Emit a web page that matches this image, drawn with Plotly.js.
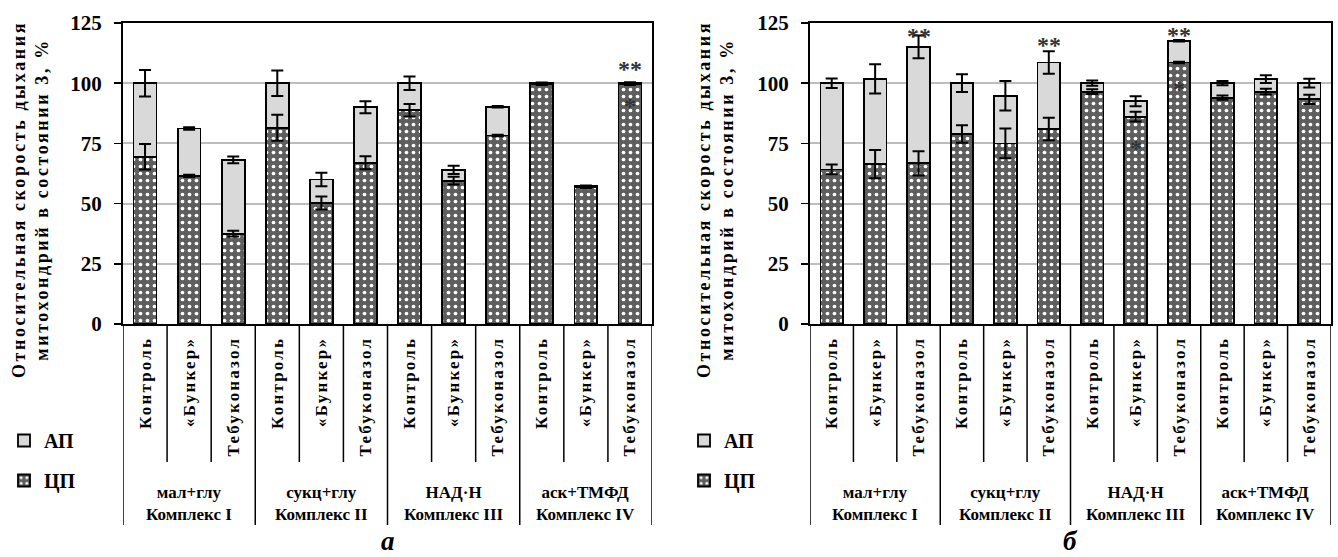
<!DOCTYPE html>
<html><head><meta charset="utf-8">
<script src="https://cdn.plot.ly/plotly-3.0.1.min.js"></script>
<style>
html,body{margin:0;padding:0;background:#fff;}
#chart{width:1338px;height:557px;}
.xtick text, .x2tick text {letter-spacing:2.2px;}
.annotation[data-index="0"] text, .annotation[data-index="1"] text {letter-spacing:2.6px;}
</style>
</head><body><div id="chart"></div>
<script>
// ---- categories ----
const treatments = ['Контроль', '«Бункер»', 'Тебуконазол'];
const groups = ['мал+глу<br>Комплекс I', 'сукц+глу<br>Комплекс II', 'НАД·Н<br>Комплекс III', 'аск+ТМФД<br>Комплекс IV'];
const tickLabels = groups.flatMap(() => treatments);
const seriesNames = ['ЦП', 'АП'];
const yTitle = 'Относительная скорость дыхания<br>митохондрий в состоянии 3, %';
const panelLabels = ['а', 'б'];

// ---- panel а ----
const cpA    = [69.5, 61.5, 37.5, 81.5, 50.2, 67.0, 88.8, 59.5, 78.3, 99.6, 56.8, 99.6];
const apA    = [30.5, 19.7, 30.7, 18.5,  9.8, 23.0, 11.2,  4.5, 11.9,  0.4,  0.4,  0.4];
const cpErrA = [5.3, 0.5, 1.2, 5.4, 2.7, 2.7, 2.6, 1.6, 0.3, 0.3, 0.3, 0.3];
const apErrA = [5.5, 0.5, 1.4, 5.3, 2.8, 2.5, 2.8, 1.7, 0.3, 0.3, 0.3, 0.4];
const starsA_x = [11, 11];
const starsA_y = [108, 92.5];
const starsA_t = ['**', '*'];

// ---- panel б ----
const cpB    = [64.2, 66.4, 66.7, 78.9, 75.0, 81.0, 96.5, 86.1, 108.6, 94.0, 96.5, 93.3];
const apB    = [35.8, 35.4, 48.4, 21.1, 19.8, 27.6,  3.5,  6.4,   9.0,  6.0,  5.2,  6.7];
const cpErrB = [2.0, 5.9, 5.0, 3.6, 6.2, 4.7, 1.0, 2.0, 0.3, 0.9, 1.2, 1.9];
const apErrB = [2.0, 6.1, 4.7, 3.7, 6.1, 4.7, 1.1, 2.1, 0.3, 0.9, 1.6, 1.8];
const starsB_x = [2, 5, 8, 8, 7];
const starsB_y = [121.5, 118, 122, 99.5, 75];
const starsB_t = ['**', '**', '**', '*', '*'];

const FONT = "'Liberation Serif', 'Times New Roman', serif";
const bold = s => '<b>' + s + '</b>';
const idx = tickLabels.map((_, i) => i);
const cpPattern = {shape: '.', size: 7, solidity: 0.22, fgcolor: '#ffffff', bgcolor: '#5e5e5e', fillmode: 'replace'};

function panelTraces(cp, ap, cpErr, apErr, xa, ya, leg) {
  const tot = cp.map((v, i) => v + ap[i]);
  return [
    {type: 'bar', name: bold(seriesNames[0]), x: idx, y: cp, xaxis: xa, yaxis: ya, legend: leg, legendgroup: 'cp' + leg, legendrank: 2,
     marker: {color: '#5e5e5e', pattern: cpPattern, line: {color: '#000', width: 1.8}}, hoverinfo: 'y'},
    {type: 'bar', name: bold(seriesNames[1]), x: idx, y: ap, xaxis: xa, yaxis: ya, legend: leg, legendgroup: 'ap' + leg, legendrank: 1,
     marker: {color: '#d9d9d9', line: {color: '#000', width: 1.8}}, hoverinfo: 'y'},
    {type: 'scatter', mode: 'markers', x: idx, y: cp, xaxis: xa, yaxis: ya, showlegend: false,
     marker: {opacity: 0, size: 1}, error_y: {type: 'data', array: cpErr, visible: true, color: '#000', thickness: 2, width: 6}},
    {type: 'scatter', mode: 'markers', x: idx, y: tot, xaxis: xa, yaxis: ya, showlegend: false,
     marker: {opacity: 0, size: 1}, error_y: {type: 'data', array: apErr, visible: true, color: '#000', thickness: 2, width: 6}}
  ];
}

const data = [
  ...panelTraces(cpA, apA, cpErrA, apErrA, 'x', 'y', 'legend'),
  ...panelTraces(cpB, apB, cpErrB, apErrB, 'x2', 'y2', 'legend2')
];

const W = 1338, H = 557, T = 23, B = 233;
const plotH = H - T - B;
const py = p => (H - B - p) / plotH;   // pixel row -> paper y

function xAxis(domain, anchor) {
  return {domain: domain, anchor: anchor, range: [-0.5, tickLabels.length - 0.5], tickvals: idx, ticktext: tickLabels.map(bold),
    tickangle: -90, tickfont: {family: FONT, size: 17, color: '#000'},
    showline: true, linecolor: '#000', linewidth: 2, mirror: true, ticks: '', showgrid: false, zeroline: false,
    ticklabelstandoff: 4, fixedrange: true};
}
function yAxis(anchor) {
  return {domain: [0, 1], anchor: anchor, range: [0, 125], tick0: 0, dtick: 25,
    ticks: 'outside', ticklen: 7, tickwidth: 1.5, tickcolor: '#000',
    tickfont: {family: FONT, size: 21, color: '#000', weight: 700},
    showline: true, linecolor: '#000', linewidth: 2, mirror: true,
    showgrid: true, gridcolor: '#bdbdbd', gridwidth: 2, zeroline: false, ticklabelstandoff: 8, fixedrange: true};
}

const shapes = [];
function separators(xref) {
  for (let k = 0; k <= tickLabels.length; k++) {
    const groupEdge = k % treatments.length === 0;
    shapes.push({type: 'line', xref: xref, yref: 'paper', x0: k - 0.5, x1: k - 0.5, y0: 0,
      y1: groupEdge ? py(525) : py(462), line: {color: '#000', width: 1.5}});
  }
}
separators('x'); separators('x2');

const annotations = [
  {xref: 'paper', yref: 'paper', x: 30 / W, y: py(200), text: bold(yTitle), textangle: -90, showarrow: false,
   xanchor: 'center', yanchor: 'middle', font: {family: FONT, size: 18, color: '#000'}},
  {xref: 'paper', yref: 'paper', x: 715 / W, y: py(200), text: bold(yTitle), textangle: -90, showarrow: false,
   xanchor: 'center', yanchor: 'middle', font: {family: FONT, size: 18, color: '#000'}},
  {xref: 'x', yref: 'paper', x: (tickLabels.length - 1) / 2, y: py(541), text: '<b><i>' + panelLabels[0] + '</i></b>', showarrow: false,
   yanchor: 'middle', font: {family: FONT, size: 27, color: '#000'}},
  {xref: 'x2', yref: 'paper', x: (tickLabels.length - 1) / 2, y: py(541), text: '<b><i>' + panelLabels[1] + '</i></b>', showarrow: false,
   yanchor: 'middle', font: {family: FONT, size: 27, color: '#000'}}
];
groups.forEach((g, gi) => {
  const cx = gi * treatments.length + (treatments.length - 1) / 2;
  ['x', 'x2'].forEach(xr => annotations.push({xref: xr, yref: 'paper', x: cx, y: py(503), text: bold(g), showarrow: false,
    yanchor: 'middle', font: {family: FONT, size: 17, color: '#000'}}));
});
function stars(xs, ys, ts, xr, yr) {
  xs.forEach((x, i) => annotations.push({xref: xr, yref: yr, x: x, y: ys[i], text: bold(ts[i]), showarrow: false,
    yanchor: 'middle', yshift: -5, font: {family: FONT, size: 24, color: '#333'}}));
}
stars(starsA_x, starsA_y, starsA_t, 'x', 'y');
stars(starsB_x, starsB_y, starsB_t, 'x2', 'y2');

const legendBase = {yanchor: 'top', xanchor: 'left', y: py(421), traceorder: 'grouped', tracegroupgap: 11,
  font: {family: FONT, size: 20, color: '#000'}, bgcolor: 'rgba(0,0,0,0)', itemclick: false, itemdoubleclick: false};

const layout = {
  width: W, height: H, margin: {l: 0, r: 0, t: T, b: B, pad: 0},
  paper_bgcolor: '#fff', plot_bgcolor: '#fff', barmode: 'stack', bargap: 0.48,
  xaxis: xAxis([123 / W, 652 / W], 'y'), yaxis: yAxis('x'),
  xaxis2: xAxis([810 / W, 1331 / W], 'y2'), yaxis2: yAxis('x2'),
  legend: Object.assign({x: 4 / W}, legendBase),
  legend2: Object.assign({x: 684 / W}, legendBase),
  shapes: shapes, annotations: annotations, showlegend: true
};

Plotly.newPlot('chart', data, layout, {displayModeBar: false, staticPlot: true});
</script></body></html>
